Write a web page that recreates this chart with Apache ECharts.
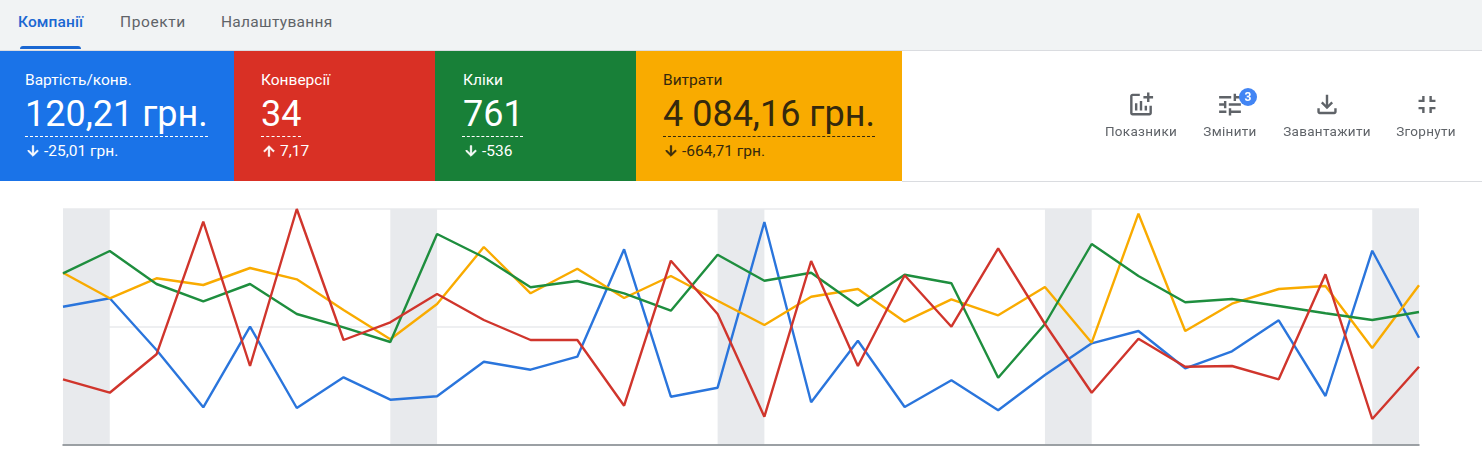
<!DOCTYPE html>
<html lang="uk">
<head>
<meta charset="utf-8">
<title>Компанії</title>
<script src="https://cdn.jsdelivr.net/npm/echarts@6/dist/echarts.min.js"></script>
<style>
html,body{margin:0;padding:0;background:#fff;width:1482px;height:453px;overflow:hidden;font-family:Roboto,sans-serif}
#chart{position:absolute;left:0;top:0;width:1482px;height:453px}
.bar{position:absolute;left:0;top:0;width:1482px;height:50px;background:#f1f3f4;border-bottom:1px solid #dadce0;box-sizing:content-box}
.tab{position:absolute;top:13px;font-size:15.5px;line-height:18px;font-weight:400;color:#5f6368}
.tab.on{color:#1a67d2;font-weight:500}
.ul{position:absolute;left:20px;top:46px;width:61px;height:3px;background:#1a67d2;border-radius:3px 3px 0 0}
.line{position:absolute;left:902px;top:181px;width:580px;height:1px;background:#dadce0}
.tile{position:absolute;top:51px;height:130px;color:#fff}
.tile .l,.tile .v,.tile .d,.tile .dash{position:absolute;white-space:nowrap}
.tile .l{top:21px;font-size:15.5px;line-height:17px}
.tile .v{top:41px;font-size:36px;line-height:44px}
.tile .dash{top:85px;height:0;border-top:1px dashed currentColor}
.tile .d{top:91px;font-size:15.5px;line-height:18px}
.tile svg{position:absolute;top:92px;width:16px;height:16px;fill:currentColor;stroke:currentColor;stroke-width:1.2}
.act{position:absolute;top:122px;font-size:13.5px;line-height:18px;font-weight:400;color:#5f6368;transform:translateX(-50%);white-space:nowrap;letter-spacing:.3px}
.ic{position:absolute;top:90px;width:29px;height:29px;fill:#5f6368;transform:translateX(-50%)}
.badge{position:absolute;left:1239px;top:88px;width:18px;height:18px;border-radius:50%;background:#4285f4;color:#fff;font-size:12px;font-weight:700;line-height:18px;text-align:center}
</style>
</head>
<body>
<div class="bar">
  <div class="tab on" style="left:18px;letter-spacing:.1px">Компанії</div>
  <div class="tab" style="left:120px;letter-spacing:.6px">Проекти</div>
  <div class="tab" style="left:221px;letter-spacing:.3px">Налаштування</div>
  <div class="ul"></div>
</div>
<div class="line"></div>

<div class="tile" style="left:0;width:234px;background:#1a73e8">
  <div class="l" style="left:25px">Вартість/конв.</div>
  <div class="v" style="left:25px">120,21 грн.</div>
  <div class="dash" style="left:25px;width:183px"></div>
  <svg style="left:25px" viewBox="0 0 24 24"><path d="M20 12l-1.41-1.41L13 16.17V4h-2v12.17l-5.58-5.59L4 12l8 8 8-8z"/></svg>
  <div class="d" style="left:44px">-25,01 грн.</div>
</div>
<div class="tile" style="left:234px;width:201px;background:#d93025">
  <div class="l" style="left:27px">Конверсії</div>
  <div class="v" style="left:27px">34</div>
  <div class="dash" style="left:27px;width:40px"></div>
  <svg style="left:27px" viewBox="0 0 24 24"><path d="M4 12l1.41 1.41L11 7.83V20h2V7.83l5.58 5.59L20 12l-8-8-8 8z"/></svg>
  <div class="d" style="left:46px">7,17</div>
</div>
<div class="tile" style="left:435px;width:201px;background:#188038">
  <div class="l" style="left:28px">Кліки</div>
  <div class="v" style="left:28px">761</div>
  <div class="dash" style="left:27px;width:61px"></div>
  <svg style="left:28px" viewBox="0 0 24 24"><path d="M20 12l-1.41-1.41L13 16.17V4h-2v12.17l-5.58-5.59L4 12l8 8 8-8z"/></svg>
  <div class="d" style="left:47px">-536</div>
</div>
<div class="tile" style="left:636px;width:266px;background:#f9ab00;color:#35290d">
  <div class="l" style="left:27px">Витрати</div>
  <div class="v" style="left:27px">4 084,16 грн.</div>
  <div class="dash" style="left:27px;width:212px"></div>
  <svg style="left:27px" viewBox="0 0 24 24"><path d="M20 12l-1.41-1.41L13 16.17V4h-2v12.17l-5.58-5.59L4 12l8 8 8-8z"/></svg>
  <div class="d" style="left:46px">-664,71 грн.</div>
</div>

<div id="chart"></div>

<svg class="ic" style="left:1141px" viewBox="0 0 24 24"><path d="M22 5v2h-3v3h-2V7h-3V5h3V2h2v3h3zm-3 14H5V5h6V3H5c-1.1 0-2 .9-2 2v14c0 1.1.9 2 2 2h14c1.1 0 2-.9 2-2v-6h-2v6zm-4-6v4h2v-4h-2zm-4 4h2V9h-2v8zm-2 0v-6H7v6h2z"/></svg>
<svg class="ic" style="left:1230px" viewBox="0 0 24 24"><path d="M3 17v2h6v-2H3zM3 5v2h10V5H3zm10 16v-2h8v-2h-8v-2h-2v6h2zM7 9v2H3v2h4v2h2V9H7zm14 4v-2H11v2h10zm-6-4h2V7h4V5h-4V3h-2v6z"/></svg>
<div class="badge">3</div>
<svg class="ic" style="left:1327px" viewBox="0 0 24 24"><path d="M18 15v3H6v-3H4v3c0 1.1.9 2 2 2h12c1.1 0 2-.9 2-2v-3h-2zm-1-4l-1.41-1.41L13 12.17V4h-2v8.17L8.41 9.59 7 11l5 5 5-5z"/></svg>
<svg class="ic" style="left:1427px" viewBox="0 0 24 24"><path d="M5 16h3v3h2v-5H5v2zm3-8H5v2h5V5H8v3zm6 11h2v-3h3v-2h-5v5zm2-11V5h-2v5h5V8h-3z"/></svg>
<div class="act" style="left:1141px">Показники</div>
<div class="act" style="left:1230px">Змінити</div>
<div class="act" style="left:1327px">Завантажити</div>
<div class="act" style="left:1426px">Згорнути</div>

<script>
// One category per day; the shaded bands fall on every seventh day.
const days = Array.from({length:30}, (_, i) => 'День ' + (i + 1));
const bandStarts = [0, 7, 14, 21, 28];

const costPerConv = [138.3,146.7,95,37.7,118.3,37,67.7,45.3,48.7,83.3,75.3,88.3,195.7,48.3,57.3,223,42.7,104.3,38,64.7,34.7,70,101.7,114,76.7,93.7,124.7,49,194.3,107.3];
const conversions = [65.7,52.3,90.7,223.3,79,236,105,122.7,151,125,105,105,39.3,184.3,131,28.3,184,79,169.7,118.3,196.7,121,52.3,106.3,78.3,79,65.7,170.7,26,78.3];
const clicks = [171.7,194,161,143.7,161,131,117.7,103,211,187.7,157.7,164,151.7,134.3,190.3,164.3,172.3,139.3,170.3,161.7,67.3,121,201,169,142.7,146,139,131.7,125,133];
const spend = [172.3,146.7,166.7,160,177,165.7,135,105.7,141,198,151.7,176.3,147,169,144.3,120,148.3,156,123.3,145.7,129.7,158,102.3,231.3,114,141.3,156,159,97,159.7];

const line = (name, data, color, extra) => Object.assign({
  name, type: 'line', data, showSymbol: false, smooth: false, animation: false,
  lineStyle: { color, width: 2.4 }, itemStyle: { color }, clip: false
}, extra || {});

const chart = echarts.init(document.getElementById('chart'), null, { renderer: 'canvas' });
chart.setOption({
  animation: false,
  grid: { left: 63, right: 63, top: 209, bottom: 8, containLabel: false },
  xAxis: {
    type: 'category', data: days, boundaryGap: false, z: 5,
    axisLine: { show: true, lineStyle: { color: '#80868b', width: 1.5 } },
    axisTick: { show: false }, axisLabel: { show: false }, splitLine: { show: false }
  },
  yAxis: {
    type: 'value', min: 0, max: 236, interval: 118,
    axisLine: { show: false }, axisTick: { show: false }, axisLabel: { show: false },
    splitLine: { show: true, lineStyle: { color: '#e8eaed', width: 1.5 } }
  },
  series: [
    line('Вартість/конв.', costPerConv, '#2a75dc', {
      markArea: {
        silent: true,
        itemStyle: { color: '#e8eaed', opacity: 1 },
        data: bandStarts.map(s => [{ xAxis: days[s] }, { xAxis: days[s + 1] }])
      }
    }),
    line('Витрати', spend, '#f9ab00'),
    line('Кліки', clicks, '#1e8e3e'),
    line('Конверсії', conversions, '#d0352c')
  ]
});
</script>
</body>
</html>
